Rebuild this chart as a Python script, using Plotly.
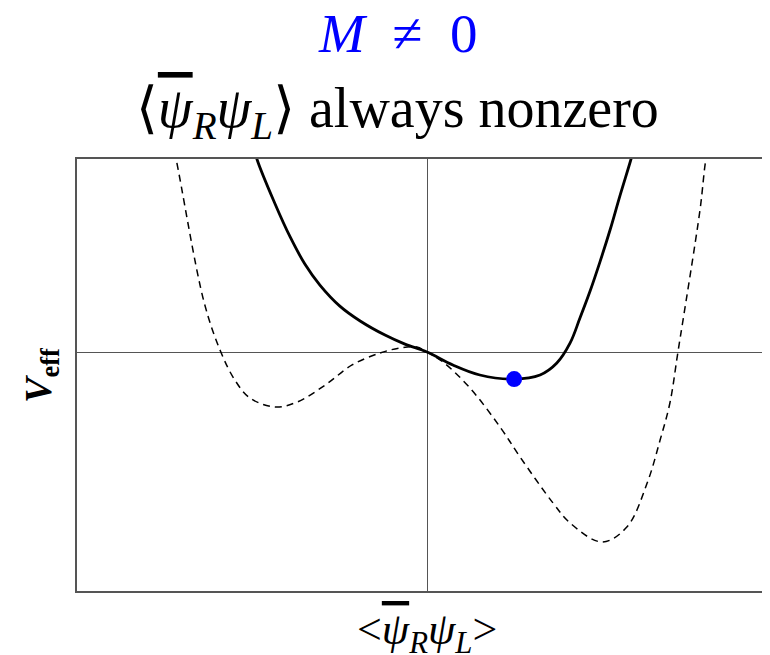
"""Effective potential sketch: M != 0 case, condensate always nonzero."""

import plotly.graph_objects as go

# dashed curve: tilted double well
dashed_x = [-0.73, -0.717, -0.637, -0.589, -0.549, -0.506, -0.434, -0.371, -0.29, -0.214,
            -0.134, -0.077, -0.029, 0.0, 0.046, 0.123, 0.209, 0.266, 0.36, 0.409,
            0.5, 0.571, 0.629, 0.666, 0.694, 0.717, 0.78, 0.797, 0.81]
dashed_y = [1.1, 1.0, 0.259, 0.0, -0.145, -0.238, -0.285, -0.259, -0.17, -0.067,
            -0.005, 0.021, 0.026, 0.0, -0.052, -0.187, -0.389, -0.544, -0.782, -0.886,
            -0.984, -0.907, -0.679, -0.456, -0.264, 0.0, 0.736, 1.0, 1.1]

# solid curve: potential with explicit mass term
solid_x = [-0.5, -0.486, -0.434, -0.391, -0.349, -0.306, -0.249, -0.191, -0.12, -0.063,
           0.0, 0.074, 0.151, 0.249, 0.323, 0.371, 0.409, 0.437, 0.466, 0.494,
           0.523, 0.551, 0.583, 0.595]
solid_y = [1.1, 1.0, 0.767, 0.596, 0.456, 0.347, 0.238, 0.161, 0.088, 0.041,
           0.0, -0.067, -0.119, -0.14, -0.119, -0.057, 0.047, 0.176, 0.316, 0.466,
           0.632, 0.808, 1.0, 1.08]

# minimum of the solid curve
min_x = [0.249]
min_y = [-0.14]

SERIF = 'Liberation Serif, DejaVu Serif, serif'
PSI_BAR = '<span style="text-decoration:overline"><i>ψ</i></span>'

fig = go.Figure()
fig.add_trace(go.Scatter(
    x=dashed_x, y=dashed_y, mode='lines', line_shape='spline',
    line={'color': 'black', 'width': 1.5, 'dash': '7px,5px'},
    showlegend=False, hoverinfo='skip',
))
fig.add_trace(go.Scatter(
    x=solid_x, y=solid_y, mode='lines', line_shape='spline',
    line={'color': 'black', 'width': 2.8},
    showlegend=False, hoverinfo='skip',
))
fig.add_trace(go.Scatter(
    x=min_x, y=min_y, mode='markers',
    marker={'color': '#0000ff', 'size': 16},
    showlegend=False, hoverinfo='skip',
))

fig.add_annotation(
    text='<i>M</i>&nbsp; ≠ &nbsp;0', xref='paper', yref='paper', x=0.463, y=1.29,
    xanchor='center', yanchor='middle', showarrow=False,
    font={'family': SERIF, 'size': 55, 'color': '#0000ff'},
)
fig.add_annotation(
    text='⟨' + PSI_BAR + '<sub><i>R</i></sub><i>ψ</i><sub><i>L</i></sub>⟩ always nonzero',
    xref='paper', yref='paper', x=0.462, y=1.109,
    xanchor='center', yanchor='middle', showarrow=False,
    font={'family': SERIF, 'size': 56, 'color': 'black'},
)
fig.add_annotation(
    text='<b><i>V</i><sub>eff</sub></b>', xref='paper', yref='paper', x=-0.052, y=0.5,
    xanchor='center', yanchor='middle', textangle=-90, showarrow=False,
    font={'family': SERIF, 'size': 38, 'color': 'black'},
)
fig.add_annotation(
    text='&lt;' + PSI_BAR + '<sub><i>R</i></sub><i>ψ</i><sub><i>L</i></sub>&gt;',
    xref='paper', yref='paper', x=0.505, y=-0.095,
    xanchor='center', yanchor='middle', showarrow=False,
    font={'family': SERIF, 'size': 44, 'color': 'black'},
)

# page body adds an 8px offset; margins are trimmed so the plot lands in place
fig.update_layout(
    width=770, height=647,
    margin={'l': 69, 'r': 8, 't': 151, 'b': 64},
    plot_bgcolor='white', paper_bgcolor='white',
    xaxis={
        'range': [-1.0, 0.98], 'showticklabels': False, 'ticks': '', 'showgrid': False,
        'zeroline': True, 'zerolinecolor': '#555555', 'zerolinewidth': 1,
        'showline': True, 'linecolor': '#555555', 'linewidth': 1.5, 'mirror': True,
    },
    yaxis={
        'range': [-1.238, 1.0], 'showticklabels': False, 'ticks': '', 'showgrid': False,
        'zeroline': True, 'zerolinecolor': '#555555', 'zerolinewidth': 1,
        'showline': True, 'linecolor': '#555555', 'linewidth': 1.5,
    },
)

fig.write_html('out.html')
